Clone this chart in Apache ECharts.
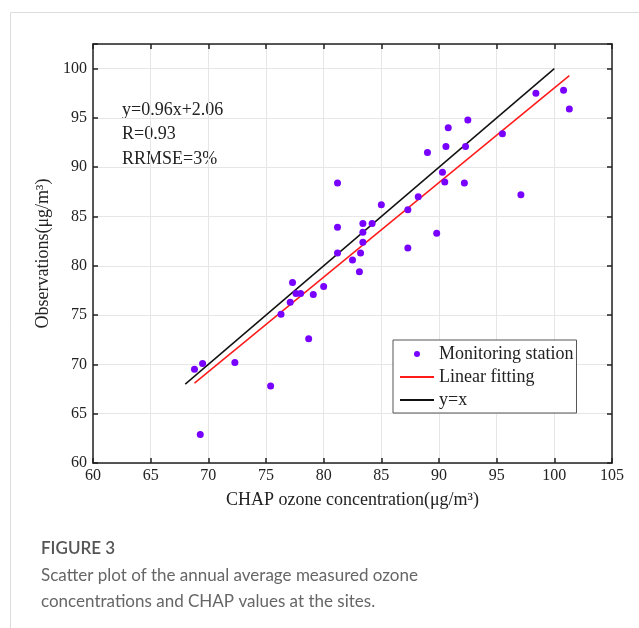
<!DOCTYPE html>
<html>
<head>
<meta charset="utf-8">
<title>Scatter plot - CHAP vs observations</title>
<script src="https://cdn.jsdelivr.net/npm/echarts@6/dist/echarts.min.js"></script>
<style>
    html, body { margin: 0; padding: 0; background: #fff; }
    #scatter_chap { width: 639px; height: 628px; }
</style>
</head>
<body>
<div id="scatter_chap"></div>
<script>

// Data
// ------------------------------

// CHAP ozone concentration (x) and observed values (y) at each monitoring site
var chapValues = [
    68.8, 69.5, 69.3, 72.3, 75.4, 76.3, 77.1, 77.3, 77.6, 78.0,
    78.7, 79.1, 80.0, 81.2, 81.2, 81.2, 82.5, 83.1, 83.2, 83.4,
    83.4, 83.4, 84.2, 85.0, 87.3, 87.3, 88.2, 89.0, 89.8, 90.3,
    90.5, 90.6, 90.8, 92.2, 92.3, 92.5, 95.5, 97.1, 98.4, 100.8,
    101.3
];
var observedValues = [
    69.5, 70.1, 62.9, 70.2, 67.8, 75.1, 76.3, 78.3, 77.2, 77.2,
    72.6, 77.1, 77.9, 81.3, 83.9, 88.4, 80.6, 79.4, 81.3, 82.4,
    83.4, 84.3, 84.3, 86.2, 85.7, 81.8, 87.0, 91.5, 83.3, 89.5,
    88.5, 92.1, 94.0, 88.4, 92.1, 94.8, 93.4, 87.2, 97.5, 97.8,
    95.9
];

// Line end points
var fitLineX = [68.8, 101.3];
var fitLineY = [68.1, 99.3];
var identityX = [68, 100];
var identityY = [68, 100];

// Axis ticks
var xTicks = [60, 65, 70, 75, 80, 85, 90, 95, 100, 105];
var yTicks = [60, 65, 70, 75, 80, 85, 90, 95, 100];

var statsText = ['y=0.96x+2.06', 'R=0.93', 'RRMSE=3%'];


var EchartsScatterChap = function () {

    var _scatterChap = function () {
        if (typeof echarts == 'undefined') {
            console.warn('Warning - echarts.min.js is not loaded.');
            return;
        }

        var chart_element = document.getElementById('scatter_chap');
        if (!chart_element) {
            return;
        }

        var chart = echarts.init(chart_element);

        var serif = '"Liberation Serif", "Times New Roman", serif';
        var sans = 'Lato, "Open Sans", "Noto Sans", sans-serif';

        var points = chapValues.map(function (x, i) {
            return [x, observedValues[i]];
        });
        var fitLine = fitLineX.map(function (x, i) {
            return [x, fitLineY[i]];
        });
        var identityLine = identityX.map(function (x, i) {
            return [x, identityY[i]];
        });

        var tickLabel = function (list) {
            return function (v) {
                return list.indexOf(v) >= 0 ? String(v) : '';
            };
        };

        // Shared axis parts
        var boxLine = { show: true, onZero: false, lineStyle: { color: '#222', width: 1.5 } };
        var innerTick = { show: true, inside: true, length: 5, lineStyle: { color: '#222', width: 1.5 } };

        chart.setOption({
            animation: false,
            backgroundColor: '#fff',

            grid: {
                left: 93,
                top: 44,
                width: 519,
                height: 419,
                containLabel: false
            },

            textStyle: {
                fontFamily: serif
            },

            legend: {
                left: 393,
                top: 340,
                orient: 'vertical',
                backgroundColor: '#fff',
                borderColor: '#555',
                borderWidth: 1,
                padding: [4, 3, 3, 6],
                itemGap: 3,
                itemWidth: 34,
                itemHeight: 6,
                selectedMode: false,
                textStyle: {
                    fontFamily: serif,
                    fontSize: 18,
                    color: '#222',
                    lineHeight: 20
                },
                data: [
                    { name: 'Monitoring station', icon: 'circle' },
                    { name: 'Linear fitting', itemStyle: { opacity: 0 } },
                    { name: 'y=x', itemStyle: { opacity: 0 } }
                ]
            },

            xAxis: [
                {
                    type: 'value',
                    min: 60,
                    max: 105,
                    interval: 5,
                    position: 'bottom',
                    name: 'CHAP ozone concentration(\u03bcg/m\u00b3)',
                    nameLocation: 'middle',
                    nameGap: 28,
                    nameTextStyle: { fontFamily: serif, fontSize: 18, color: '#222' },
                    axisLine: boxLine,
                    axisTick: innerTick,
                    axisLabel: { margin: 5, fontSize: 16, color: '#222', fontFamily: serif, formatter: tickLabel(xTicks) },
                    splitLine: { show: true, lineStyle: { color: '#e6e6e6', width: 1 } }
                },
                {
                    type: 'value',
                    min: 60,
                    max: 105,
                    interval: 5,
                    position: 'top',
                    axisLine: boxLine,
                    axisTick: innerTick,
                    axisLabel: { show: false },
                    splitLine: { show: false }
                }
            ],

            yAxis: [
                {
                    type: 'value',
                    min: 60,
                    max: 102.5,
                    interval: 5,
                    position: 'left',
                    name: 'Observations(\u03bcg/m\u00b3)',
                    nameLocation: 'middle',
                    nameGap: 38,
                    nameTextStyle: { fontFamily: serif, fontSize: 18, color: '#222' },
                    axisLine: boxLine,
                    axisTick: innerTick,
                    axisLabel: { margin: 6, fontSize: 16, color: '#222', fontFamily: serif, formatter: tickLabel(yTicks) },
                    splitLine: { show: true, lineStyle: { color: '#e6e6e6', width: 1 } }
                },
                {
                    type: 'value',
                    min: 60,
                    max: 102.5,
                    interval: 5,
                    position: 'right',
                    axisLine: boxLine,
                    axisTick: innerTick,
                    axisLabel: { show: false },
                    splitLine: { show: false }
                }
            ],

            series: [
                {
                    name: 'y=x',
                    type: 'line',
                    data: identityLine,
                    symbol: 'none',
                    lineStyle: { color: '#111', width: 1.5 },
                    itemStyle: { color: '#111' },
                    z: 2
                },
                {
                    name: 'Linear fitting',
                    type: 'line',
                    data: fitLine,
                    symbol: 'none',
                    lineStyle: { color: '#ff1a1a', width: 1.5 },
                    itemStyle: { color: '#ff1a1a' },
                    z: 3
                },
                {
                    name: 'Monitoring station',
                    type: 'scatter',
                    data: points,
                    symbol: 'circle',
                    symbolSize: 7,
                    itemStyle: { color: '#7800ff', opacity: 1 },
                    z: 4
                }
            ],

            graphic: [
                // figure card border
                {
                    type: 'rect',
                    left: 8,
                    top: 10,
                    shape: { width: 700, height: 700 },
                    style: { fill: null, stroke: '#dcdcdc', lineWidth: 1 },
                    silent: true
                },
                {
                    type: 'text',
                    left: 122,
                    top: 98,
                    style: {
                        text: statsText.join('\n'),
                        font: '18px ' + serif,
                        lineHeight: 24.5,
                        fill: '#222'
                    }
                },
                {
                    type: 'text',
                    left: 41,
                    top: 540,
                    style: {
                        text: 'FIGURE 3',
                        font: '600 17px ' + sans,
                        fill: '#555'
                    }
                },
                {
                    type: 'text',
                    left: 41,
                    top: 563,
                    style: {
                        text: 'Scatter plot of the annual average measured ozone\nconcentrations and CHAP values at the sites.',
                        font: '17px ' + sans,
                        lineHeight: 26,
                        fill: '#666'
                    }
                }
            ]
        });
    };

    return {
        init: function () {
            _scatterChap();
        }
    }
}();


document.addEventListener('DOMContentLoaded', function () {
    EchartsScatterChap.init();
});
</script>
</body>
</html>
